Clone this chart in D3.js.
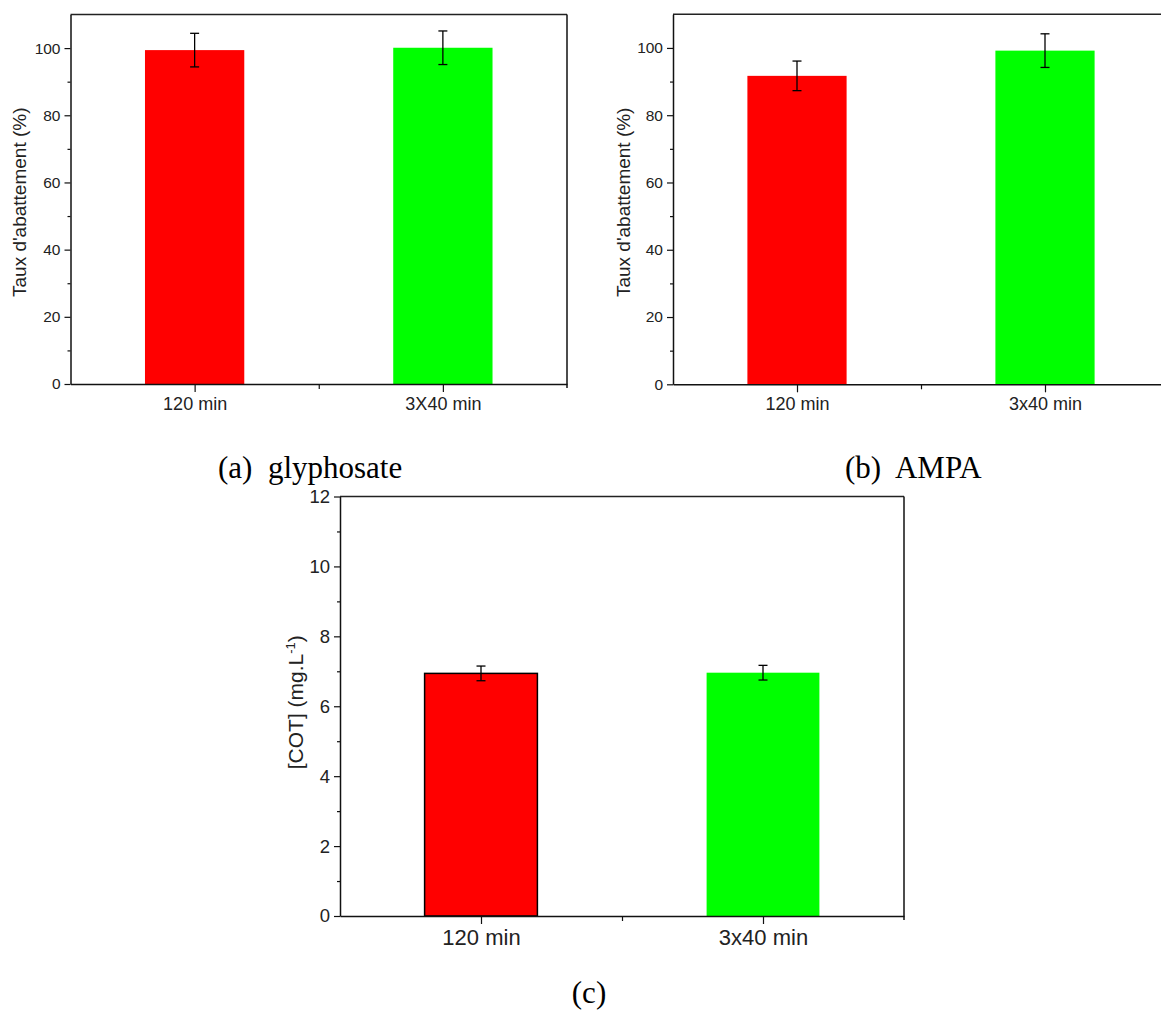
<!DOCTYPE html>
<html>
<head>
<meta charset="utf-8">
<script src="https://cdn.jsdelivr.net/npm/d3@7"></script>
<style>
  html, body { margin: 0; padding: 0; background: #fff; }
  svg { display: block; }
  .tick text { font-family: Arial, "Liberation Sans", sans-serif; fill: #222; }
</style>
</head>
<body>
<svg id="chart" width="1161" height="1014"></svg>
<script>
// ---- Data ----
const categoriesA = ["120 min", "3X40 min"];
const valuesA = [99.4, 100.1];
const errorsA = [5.0, 5.0];

const categoriesB = ["120 min", "3x40 min"];
const valuesB = [91.7, 99.2];
const errorsB = [4.4, 5.0];

const categoriesC = ["120 min", "3x40 min"];
const valuesC = [6.94, 6.96];
const errorsC = [0.21, 0.21];

const barColors = ["#ff0000", "#00ff00"];
const yTicksAB = [0, 20, 40, 60, 80, 100];
const yMinorAB = [10, 30, 50, 70, 90];
const yTicksC = [0, 2, 4, 6, 8, 10, 12];
const yMinorC = [1, 3, 5, 7, 9, 11];
const yTitleAB = "Taux d'abattement (%)";
const captions = ["(a)  glyphosate", "(b)  AMPA", "(c)"];

const svg = d3.select("#chart");

function panel(opts) {
  const { left, right, top, bottom, yMax, cats, vals, errs, yTicks, yMinor,
          tickFont, xFont, outlineRed, xLabelDy } = opts;
  const g = svg.append("g");
  const x = d3.scaleLinear().domain([0.5, 2.5]).range([left, right]);
  const y = d3.scaleLinear().domain([0, yMax]).range([bottom, top]);
  const bw = x(1.4) - x(1.0);

  g.selectAll("rect.bar").data(vals).enter().append("rect")
    .attr("x", (d, i) => x(i + 1) - bw / 2)
    .attr("y", d => y(d))
    .attr("width", bw)
    .attr("height", d => y(0) - y(d))
    .attr("fill", (d, i) => barColors[i])
    .attr("stroke", (d, i) => (outlineRed && i === 0) ? "#000" : "none")
    .attr("stroke-width", 1.5);

  const cap = 4.5;
  vals.forEach((v, i) => {
    const cx = x(i + 1);
    const e = errs[i];
    g.append("line").attr("x1", cx).attr("x2", cx).attr("y1", y(v + e)).attr("y2", y(v - e))
      .attr("stroke", "#000").attr("stroke-width", 1.3);
    [v + e, v - e].forEach(yy => {
      g.append("line").attr("x1", cx - cap).attr("x2", cx + cap).attr("y1", y(yy)).attr("y2", y(yy))
        .attr("stroke", "#000").attr("stroke-width", 1.3);
    });
  });

  g.append("line").attr("x1", left).attr("x2", right).attr("y1", top).attr("y2", top)
    .attr("stroke", "#222").attr("stroke-width", 1.5);
  g.append("line").attr("x1", right).attr("x2", right).attr("y1", top).attr("y2", bottom + 4)
    .attr("stroke", "#111").attr("stroke-width", 1.5);

  const yAxis = d3.axisLeft(y).tickValues(yTicks).tickSize(6).tickSizeOuter(0).tickPadding(4);
  const ya = g.append("g").attr("transform", `translate(${left},0)`).call(yAxis);
  ya.selectAll("text").style("font-size", tickFont + "px");
  ya.select(".domain").attr("stroke", "#111").attr("stroke-width", 1.5);
  ya.selectAll(".tick line").attr("stroke", "#111").attr("stroke-width", 1.2);
  const yMin = d3.axisLeft(y).tickValues(yMinor).tickSize(3).tickSizeOuter(0).tickFormat("");
  const ym = g.append("g").attr("transform", `translate(${left},0)`).call(yMin);
  ym.select(".domain").remove();
  ym.selectAll(".tick line").attr("stroke", "#111").attr("stroke-width", 1.2);

  const xAxis = d3.axisBottom(x).tickValues([1, 2]).tickSize(8).tickSizeOuter(0)
    .tickPadding(xLabelDy).tickFormat((d) => cats[d - 1]);
  const xa = g.append("g").attr("transform", `translate(0,${bottom})`).call(xAxis);
  xa.selectAll("text").style("font-size", xFont + "px");
  xa.select(".domain").attr("stroke", "#111").attr("stroke-width", 1.5);
  xa.selectAll(".tick line").attr("stroke", "#111").attr("stroke-width", 1.2);
  const xMin = d3.axisBottom(x).tickValues([1.5]).tickSize(5).tickSizeOuter(0).tickFormat("");
  const xm = g.append("g").attr("transform", `translate(0,${bottom})`).call(xMin);
  xm.select(".domain").remove();
  xm.selectAll(".tick line").attr("stroke", "#111").attr("stroke-width", 1.2);

  return { g, x, y };
}

// Panel (a)
panel({ left: 70.5, right: 567, top: 14.5, bottom: 384, yMax: 110,
  cats: categoriesA, vals: valuesA, errs: errorsA, yTicks: yTicksAB, yMinor: yMinorAB,
  tickFont: 15.5, xFont: 18, outlineRed: false, xLabelDy: 5 });
svg.append("text")
  .attr("transform", `translate(26,${(14.5 + 384) / 2 + 3}) rotate(-90)`)
  .attr("text-anchor", "middle")
  .style("font-family", "Arial, 'Liberation Sans', sans-serif").style("font-size", "19px").attr("fill", "#222")
  .text(yTitleAB);

// Panel (b)
panel({ left: 673, right: 1169, top: 14.3, bottom: 384.3, yMax: 110,
  cats: categoriesB, vals: valuesB, errs: errorsB, yTicks: yTicksAB, yMinor: yMinorAB,
  tickFont: 15.5, xFont: 18, outlineRed: false, xLabelDy: 5 });
svg.append("text")
  .attr("transform", `translate(630,${(14.3 + 384.3) / 2 + 3}) rotate(-90)`)
  .attr("text-anchor", "middle")
  .style("font-family", "Arial, 'Liberation Sans', sans-serif").style("font-size", "19px").attr("fill", "#222")
  .text(yTitleAB);

// Panel (c)
panel({ left: 340, right: 904, top: 496.5, bottom: 916, yMax: 12,
  cats: categoriesC, vals: valuesC, errs: errorsC, yTicks: yTicksC, yMinor: yMinorC,
  tickFont: 18.5, xFont: 22, outlineRed: true, xLabelDy: 5 });
const tc = svg.append("text")
  .attr("transform", `translate(303,${(496.5 + 916) / 2 - 4}) rotate(-90)`)
  .attr("text-anchor", "middle")
  .style("font-family", "Arial, 'Liberation Sans', sans-serif").style("font-size", "21px").attr("fill", "#222");
tc.append("tspan").text("[COT] (mg.L");
tc.append("tspan").attr("dy", -8).style("font-size", "13px").text("-1");
tc.append("tspan").attr("dy", 8).text(")");

// Captions
const capStyle = sel => sel.style("font-family", "'Times New Roman', 'Liberation Serif', serif")
  .style("font-size", "31px").attr("fill", "#000").attr("xml:space", "preserve");
capStyle(svg.append("text").attr("x", 218).attr("y", 478).text(captions[0]));
capStyle(svg.append("text").attr("x", 845).attr("y", 478).text(captions[1]));
capStyle(svg.append("text").attr("x", 589).attr("y", 1003).attr("text-anchor", "middle").text(captions[2]));
</script>
</body>
</html>
